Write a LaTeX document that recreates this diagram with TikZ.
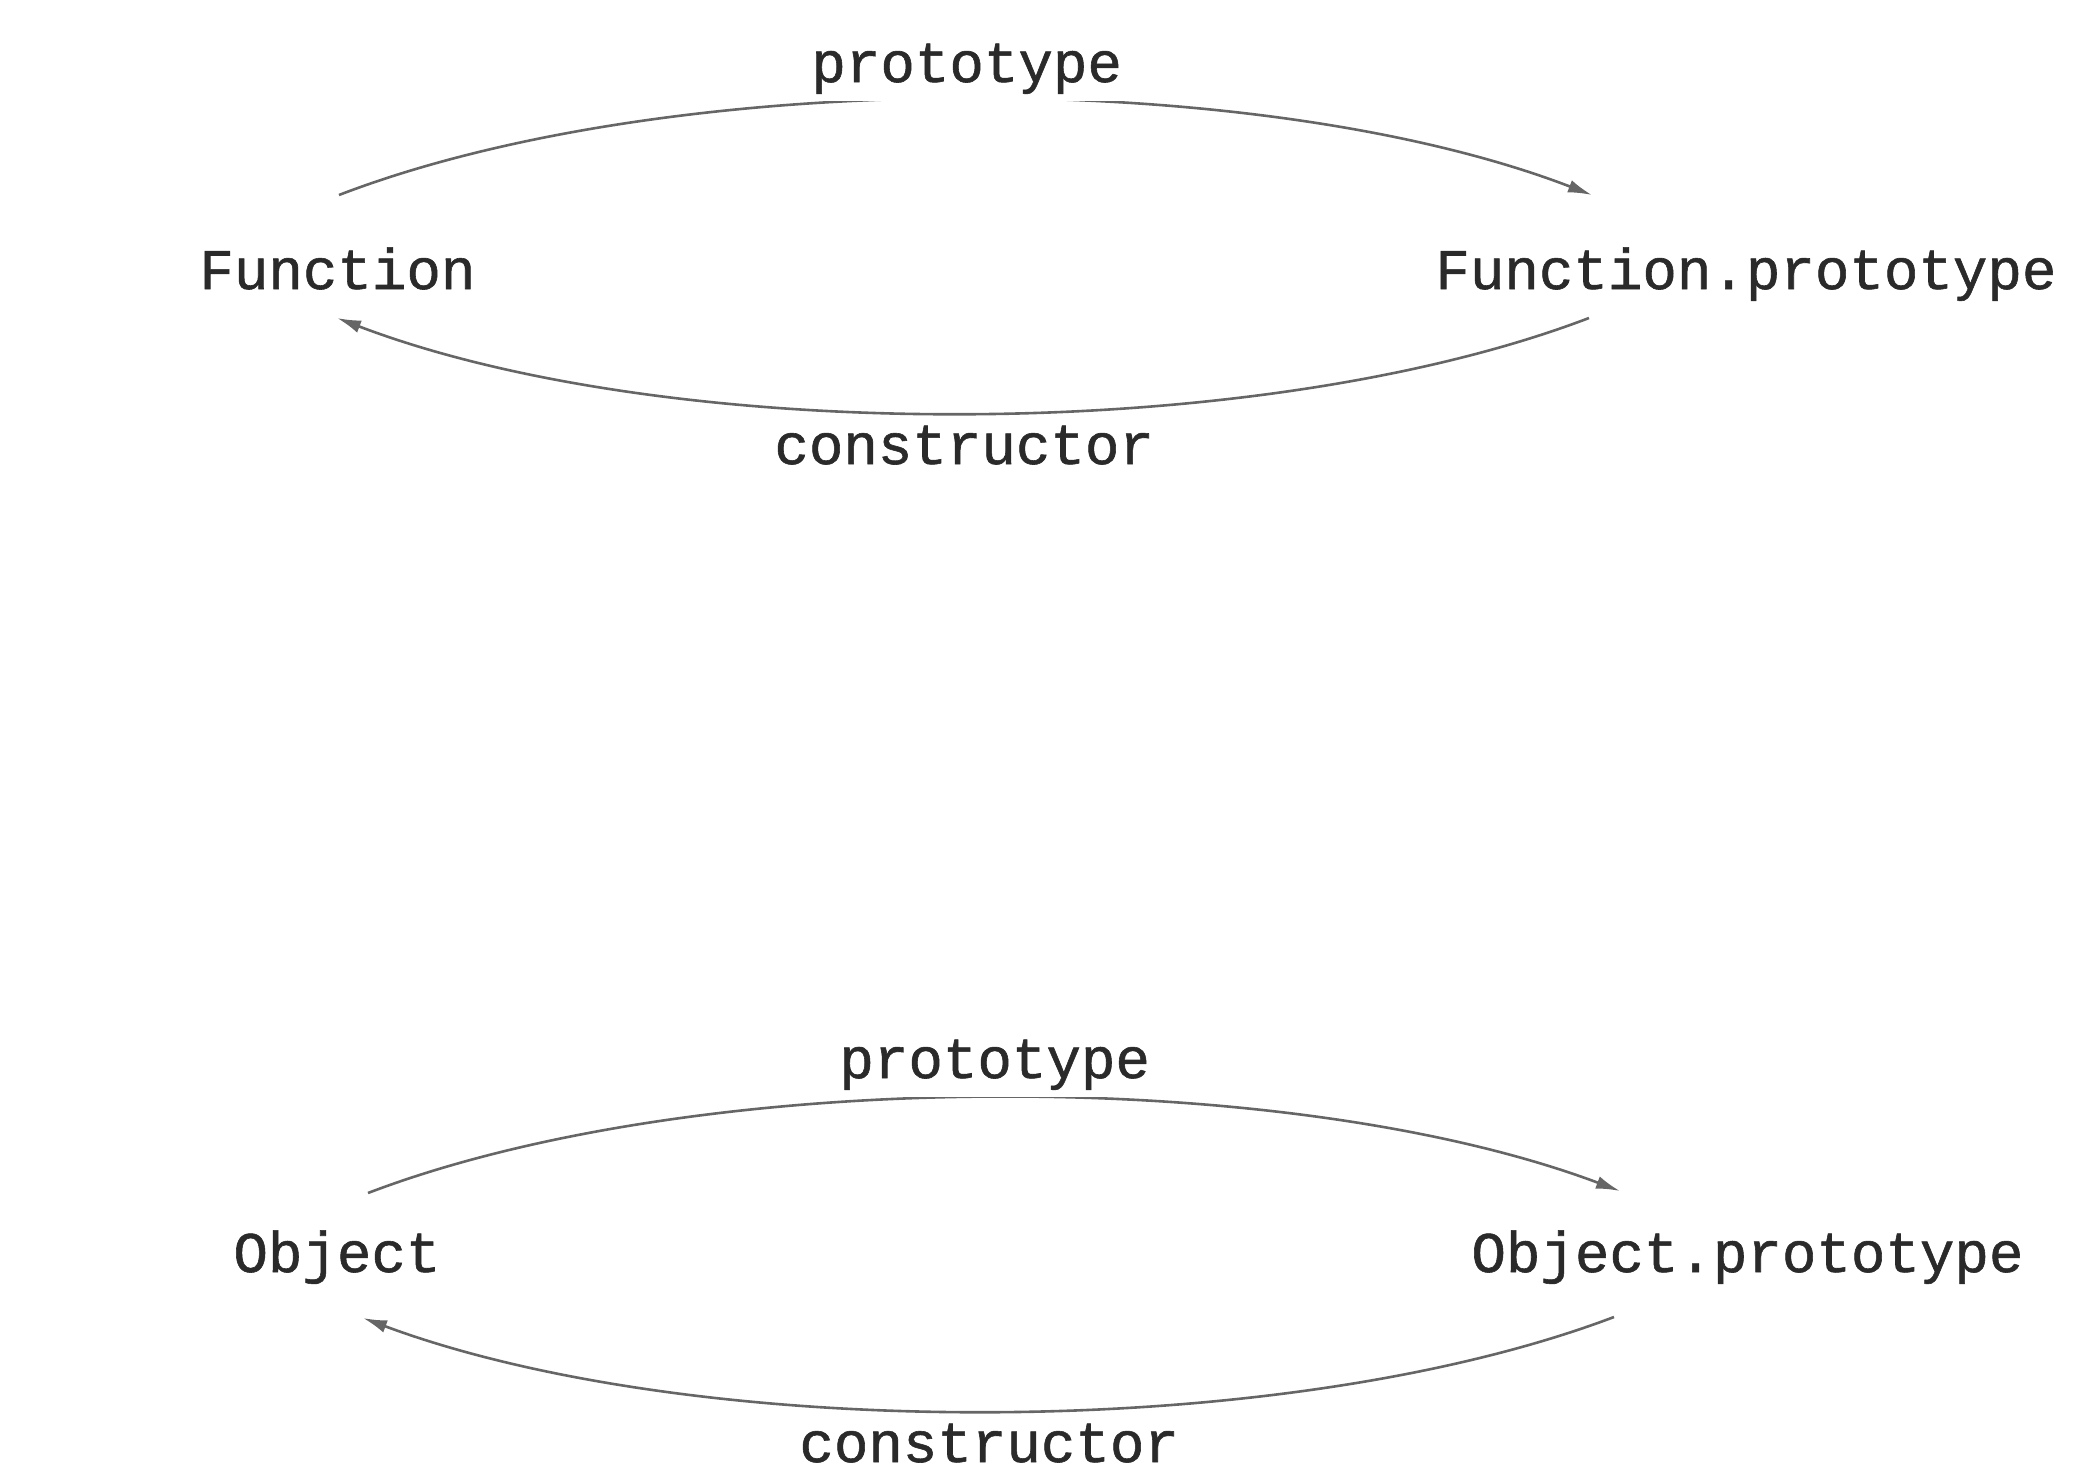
\documentclass[tikz,border=0pt]{standalone}
\usepackage{fontspec}
\setmonofont[FakeBold=1]{Liberation Mono}
\usetikzlibrary{arrows.meta}
\definecolor{txt}{HTML}{2A2A2A}
\definecolor{edge}{HTML}{666666}
\begin{document}
\begin{tikzpicture}[x=0.5pt,y=-0.5pt,
  lbl/.style={font=\ttfamily\fontsize{28.75pt}{34pt}\selectfont, text=txt, inner sep=0pt, anchor=base west},
  elbl/.style={lbl, fill=white, inner xsep=4pt, text depth=9.5pt},
  link/.style={draw=edge, line width=1.3pt, -{Latex[length=12pt,width=6.5pt]}}]
\useasboundingbox (0,0) rectangle (2078,1472);
% nodes
\node[lbl] (F)  at (199,289)  {Function};
\node[lbl] (FP) at (1435,289) {Function.prototype};
\node[lbl] (O)  at (233,1272) {Object};
\node[lbl] (OP) at (1471,1272) {Object.prototype};
% connectors
\draw[link] ([shift={(140,-94)}]F.base west) .. controls +(333,-128) and +(-333,-128) .. ([shift={(157,-94)}]FP.base west);
\draw[link] ([shift={(154,29)}]FP.base west) .. controls +(-333,127) and +(333,127) .. ([shift={(138,29)}]F.base west);
\draw[link] ([shift={(135,-79)}]O.base west) .. controls +(333,-127) and +(-333,-125) .. ([shift={(149,-81)}]OP.base west);
\draw[link] ([shift={(143,45)}]OP.base west) .. controls +(-333,126) and +(333,124) .. ([shift={(130,46)}]O.base west);
% edge labels
\node[elbl] (p1) at (803,82)   {prototype};
\node[elbl] (c1) at (766,464)  {constructor};
\node[elbl] (p2) at (831,1078) {prototype};
\node[elbl] (c2) at (791,1462) {constructor};
\end{tikzpicture}
\end{document}
